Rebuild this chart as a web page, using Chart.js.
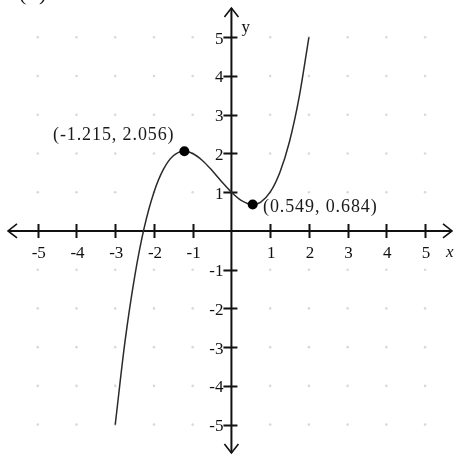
<!DOCTYPE html>
<html>
<head>
<meta charset="utf-8">
<script src="https://cdn.jsdelivr.net/npm/chart.js@4.4.1/dist/chart.umd.min.js"></script>
<style>
  html, body { margin: 0; padding: 0; background: #fff; }
  #wrap { width: 456px; height: 457px; }
</style>
</head>
<body>
<div id="wrap"><canvas id="myChart"></canvas></div>
<script>
// Curve points
const curveX = [-3, -2.75, -2.5, -2.25, -2, -1.75, -1.5, -1.215, -1, -0.75, -0.5, -0.25, 0, 0.25, 0.549, 0.75, 1, 1.25, 1.5, 1.75, 2];
const curveY = [-5, -2.87, -1.19, 0.09, 1, 1.6, 1.94, 2.056, 2, 1.82, 1.56, 1.27, 1, 0.79, 0.684, 0.74, 1, 1.51, 2.31, 3.46, 5];

// Marked turning points
const extremaX = [-1.215, 0.549];
const extremaY = [2.056, 0.684];
const extremaLabels = ['(-1.215, 2.056)', '(0.549, 0.684)'];

// Axis ticks
const xTicks = [-5, -4, -3, -2, -1, 1, 2, 3, 4, 5];
const yTicks = [-5, -4, -3, -2, -1, 1, 2, 3, 4, 5];
const xTickLabels = ['-5', '-4', '-3', '-2', '-1', '1', '2', '3', '4', '5'];
const yTickLabels = ['-5', '-4', '-3', '-2', '-1', '1', '2', '3', '4', '5'];

function zipxy(xs, ys) {
  const out = [];
  for (let i = 0; i < xs.length; i++) out.push({x: xs[i], y: ys[i]});
  return out;
}

// faint dot at every grid point
const gridDots = [];
xTicks.forEach(gx => yTicks.forEach(gy => gridDots.push({x: gx, y: gy})));

const serif = '"Liberation Serif", "Times New Roman", serif';

// Axes with arrows, tick marks and labels
const axesPlugin = {
  id: 'axesPlugin',
  beforeDatasetsDraw(chart) {
    const {ctx, scales: {x, y}} = chart;
    const x0 = x.getPixelForValue(0), y0 = y.getPixelForValue(0);
    const left = 8, right = 452, top = 8, bottom = 453;
    ctx.save();
    ctx.strokeStyle = '#111';
    ctx.lineWidth = 2;
    ctx.lineCap = 'butt';
    ctx.beginPath();
    ctx.moveTo(left, y0); ctx.lineTo(right, y0);
    ctx.moveTo(x0, top); ctx.lineTo(x0, bottom);
    ctx.stroke();

    // arrowheads
    ctx.lineWidth = 1.6;
    ctx.beginPath();
    ctx.moveTo(left + 9, y0 - 7); ctx.lineTo(left, y0); ctx.lineTo(left + 9, y0 + 7);
    ctx.moveTo(right - 9, y0 - 7); ctx.lineTo(right, y0); ctx.lineTo(right - 9, y0 + 7);
    ctx.moveTo(x0 - 7, top + 9); ctx.lineTo(x0, top); ctx.lineTo(x0 + 7, top + 9);
    ctx.moveTo(x0 - 7, bottom - 9); ctx.lineTo(x0, bottom); ctx.lineTo(x0 + 7, bottom - 9);
    ctx.stroke();

    // tick marks
    ctx.lineWidth = 2;
    ctx.beginPath();
    xTicks.forEach(v => {
      const px = Math.round(x.getPixelForValue(v)) + 0.5;
      ctx.moveTo(px, y0 - 7); ctx.lineTo(px, y0 + 7);
    });
    yTicks.forEach(v => {
      const py = Math.round(y.getPixelForValue(v)) + 0.5;
      ctx.moveTo(x0 - 8, py); ctx.lineTo(x0 + 6, py);
    });
    ctx.stroke();

    // tick labels
    ctx.fillStyle = '#111';
    ctx.font = '17px ' + serif;
    ctx.textAlign = 'center';
    ctx.textBaseline = 'middle';
    xTicks.forEach((v, i) => {
      ctx.fillText(xTickLabels[i], x.getPixelForValue(v) + 1, y0 + 23);
    });
    ctx.textAlign = 'right';
    yTicks.forEach((v, i) => {
      ctx.fillText(yTickLabels[i], x0 - 8, y.getPixelForValue(v) + 2);
    });

    // axis names
    ctx.font = '17px ' + serif;
    ctx.textAlign = 'left';
    ctx.fillText('y', x0 + 10, 28);
    ctx.font = 'italic 17px ' + serif;
    ctx.fillText('x', 446, y0 + 22);

    // cut-off part label at top-left
    ctx.font = '22px ' + serif;
    ctx.textBaseline = 'alphabetic';
    ctx.fillText('(', 19, 0);
    ctx.fillText(')', 39, 0);
    ctx.restore();
  },
  afterDatasetsDraw(chart) {
    const {ctx} = chart;
    ctx.save();
    ctx.fillStyle = '#1a1a1a';
    ctx.font = '18px ' + serif;
    ctx.textBaseline = 'middle';
    ctx.textAlign = 'left';
    ctx.letterSpacing = '0.9px';
    ctx.fillText(extremaLabels[0], 53, 135);
    ctx.fillText(extremaLabels[1], 263, 207);
    ctx.restore();
  }
};

const ctx = document.getElementById('myChart');
new Chart(ctx, {
  type: 'scatter',
  data: {
    datasets: [
      {
        data: gridDots,
        pointRadius: 1.3,
        pointBackgroundColor: 'rgba(180,180,180,0.5)',
        pointBorderWidth: 0,
        order: 3
      },
      {
        data: zipxy(curveX, curveY),
        showLine: true,
        pointRadius: 0,
        borderColor: '#2a2a2a',
        borderWidth: 1.5,
        cubicInterpolationMode: 'monotone',
        order: 2
      },
      {
        data: zipxy(extremaX, extremaY),
        pointRadius: 5,
        pointBackgroundColor: '#000',
        pointBorderColor: '#000',
        pointBorderWidth: 0,
        order: 1
      }
    ]
  },
  options: {
    responsive: true,
    maintainAspectRatio: false,
    animation: false,
    layout: {padding: 0},
    plugins: {legend: {display: false}, tooltip: {enabled: false}},
    scales: {
      x: {type: 'linear', min: -5.846, max: 5.669, display: false},
      y: {type: 'linear', min: -5.707, max: 5.833, display: false}
    }
  },
  plugins: [axesPlugin]
});
</script>
</body>
</html>
